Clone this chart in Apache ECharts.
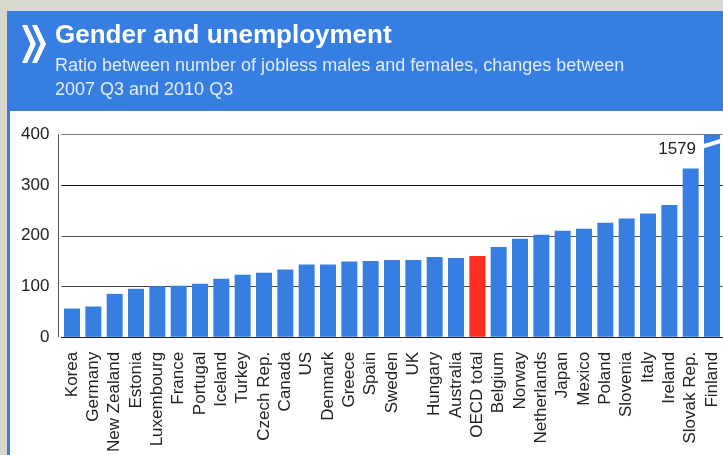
<!DOCTYPE html>
<html>
<head>
<meta charset="utf-8">
<script src="https://cdn.jsdelivr.net/npm/echarts@6/dist/echarts.min.js"></script>
<style>
  html, body { margin: 0; padding: 0; background: #d8d8d0; }
  #chart { width: 723px; height: 455px; }
</style>
</head>
<body>
<div id="chart"></div>
<script>
// Ratio between jobless males and females, change 2007 Q3 – 2010 Q3
const categories = [
  'Korea', 'Germany', 'New Zealand', 'Estonia', 'Luxembourg', 'France',
  'Portugal', 'Iceland', 'Turkey', 'Czech Rep.', 'Canada', 'US', 'Denmark',
  'Greece', 'Spain', 'Sweden', 'UK', 'Hungary', 'Australia', 'OECD total',
  'Belgium', 'Norway', 'Netherlands', 'Japan', 'Mexico', 'Poland',
  'Slovenia', 'Italy', 'Ireland', 'Slovak Rep.', 'Finland'
];
const ratios = [
  56, 60, 85, 95, 100, 101,
  105, 115, 123, 127, 133, 143, 143,
  149, 150, 152, 152, 158, 156, 160,
  178, 194, 202, 210, 214, 226,
  234, 244, 261, 333, 1579
];
const yTicks = [0, 100, 200, 300, 400];
const highlighted = 'OECD total';
const labelled = 'Finland';   // bar that runs past the axis top

const BLUE = '#377ee2';
const RED = '#ff2d22';
const FONT = "'Liberation Sans', Arial, sans-serif";
const yMax = yTicks[yTicks.length - 1];
const yStep = yTicks[1] - yTicks[0];

const barData = categories.map((name, i) => {
  const item = { value: ratios[i] };
  if (name === highlighted) item.itemStyle = { color: RED };
  if (name === labelled) {
    item.label = {
      show: true,
      formatter: '{c}',
      position: [-8, 14.5],
      align: 'right',
      verticalAlign: 'middle',
      color: '#222',
      fontSize: 17,
      fontFamily: FONT
    };
  }
  return item;
});

const chart = echarts.init(document.getElementById('chart'), null, { renderer: 'canvas' });

chart.setOption({
  backgroundColor: '#d8d8d0',
  animation: false,
  graphic: [
    // card with blue frame
    { type: 'rect', shape: { x: 8.5, y: 12.5, width: 800, height: 600 },
      style: { fill: '#ffffff', stroke: BLUE, lineWidth: 3 } },
    // header band
    { type: 'rect', shape: { x: 7, y: 11, width: 720, height: 100 },
      style: { fill: BLUE } },
    // double chevron mark
    { type: 'polygon', shape: { points: [[22, 25], [27, 25], [36, 44], [27, 63], [22, 63], [30.5, 44]] },
      style: { fill: '#ffffff' } },
    { type: 'polygon', shape: { points: [[32, 25], [37, 25], [46, 44], [37, 63], [32, 63], [40.5, 44]] },
      style: { fill: '#ffffff' } },
    { type: 'text', x: 55, y: 35.5,
      style: { text: 'Gender and unemployment', fill: '#ffffff',
               font: 'bold 26px ' + FONT, align: 'left', verticalAlign: 'middle' } },
    { type: 'text', x: 55, y: 66,
      style: { text: 'Ratio between number of jobless males and females, changes between',
               fill: '#e4ecf9', font: '18px ' + FONT, align: 'left', verticalAlign: 'middle' } },
    { type: 'text', x: 55, y: 90,
      style: { text: '2007 Q3 and 2010 Q3',
               fill: '#e4ecf9', font: '18px ' + FONT, align: 'left', verticalAlign: 'middle' } }
  ],
  grid: {
    left: 61.33,
    right: 0.33,
    top: 134.7,
    height: 202.3,
    containLabel: false
  },
  xAxis: {
    type: 'category',
    data: categories,
    axisLine: { show: true, lineStyle: { color: '#222', width: 1 } },
    axisTick: { show: false },
    axisLabel: {
      interval: 0,
      rotate: 90,
      margin: 15,
      color: '#222',
      fontSize: 17,
      fontFamily: FONT
    },
    splitLine: { show: false }
  },
  yAxis: {
    type: 'value',
    min: yTicks[0],
    max: yMax,
    interval: yStep,
    offset: 3,
    axisLine: { show: true, lineStyle: { color: '#555', width: 1 } },
    axisTick: { show: false },
    axisLabel: {
      margin: 9,
      color: '#222',
      fontSize: 17,
      fontFamily: FONT
    },
    splitLine: {
      show: true,
      lineStyle: { color: ['#222', '#444', '#555', '#111', '#777'], width: 1 }
    }
  },
  series: [
    {
      type: 'bar',
      data: barData,
      barWidth: 16,
      clip: true,
      itemStyle: { color: BLUE },
      z: 3
    },
    {
      // white slash marking the broken bar at the axis top
      type: 'custom',
      z: 4,
      silent: true,
      data: [[labelled, yMax]],
      renderItem: function (params, api) {
        const p = api.coord([api.value(0), api.value(1)]);
        const half = api.size([1, 0])[0] * 0.75 / 2 + 1;
        return {
          type: 'polygon',
          shape: {
            points: [
              [p[0] - half, p[1] + 9.6],
              [p[0] + half, p[1] + 4],
              [p[0] + half, p[1] + 8.2],
              [p[0] - half, p[1] + 13.9]
            ]
          },
          style: { fill: '#ffffff' }
        };
      }
    }
  ]
});
</script>
</body>
</html>
